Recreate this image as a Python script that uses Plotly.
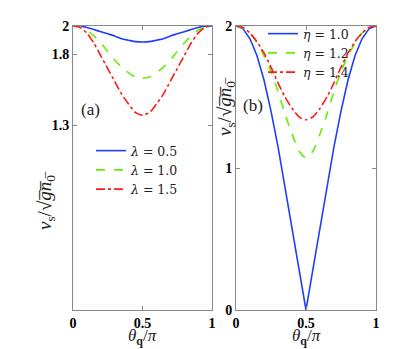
import plotly.graph_objects as go

# theta_q / pi sample positions
theta = [0.0, 0.05, 0.10, 0.15, 0.20, 0.25, 0.30, 0.35, 0.40, 0.45, 0.50,
         0.55, 0.60, 0.65, 0.70, 0.75, 0.80, 0.85, 0.90, 0.95, 1.0]

# panel (a): lambda series
lam_labels = ["0.5", "1.0", "1.5"]
lam_05 = [2.0, 1.998, 1.99, 1.975, 1.96, 1.945, 1.93, 1.91, 1.90, 1.89, 1.887,
          1.89, 1.90, 1.91, 1.93, 1.945, 1.96, 1.975, 1.99, 1.998, 2.0]
lam_10 = [2.0, 1.995, 1.97, 1.93, 1.88, 1.82, 1.76, 1.71, 1.67, 1.64, 1.632,
          1.64, 1.67, 1.71, 1.76, 1.82, 1.88, 1.93, 1.97, 1.995, 2.0]
lam_15 = [2.0, 1.99, 1.95, 1.88, 1.79, 1.70, 1.61, 1.52, 1.45, 1.39, 1.373,
          1.39, 1.45, 1.52, 1.61, 1.70, 1.79, 1.88, 1.95, 1.99, 2.0]

# panel (b): eta series
eta_labels = ["1.0", "1.2", "1.4"]
eta_10 = [2.0, 1.98, 1.91, 1.79, 1.62, 1.40, 1.15, 0.87, 0.58, 0.29, 0.0,
          0.29, 0.58, 0.87, 1.15, 1.40, 1.62, 1.79, 1.91, 1.98, 2.0]
eta_12 = [2.0, 1.985, 1.95, 1.88, 1.79, 1.68, 1.54, 1.38, 1.24, 1.12, 1.07,
          1.12, 1.24, 1.38, 1.54, 1.68, 1.79, 1.88, 1.95, 1.985, 2.0]
eta_14 = [2.0, 1.99, 1.95, 1.89, 1.81, 1.71, 1.60, 1.50, 1.42, 1.36, 1.34,
          1.36, 1.42, 1.50, 1.60, 1.71, 1.81, 1.89, 1.95, 1.99, 2.0]

colors = ["#1f3fff", "#66ee00", "#ff1a1a"]
dashes = ["solid", "dash", "dashdot"]
serif = "Liberation Serif"

# the page body has an 8px margin, so the figure is laid out in a 407x341 frame
W, H, OFF = 407, 341, 8


def px(x, y):
    # window pixel -> paper fraction
    return (x - OFF) / W, 1 - (y - OFF) / H


fig = go.Figure()

for ys, lab, c, d in zip([lam_05, lam_10, lam_15], lam_labels, colors, dashes):
    fig.add_trace(go.Scatter(
        x=theta, y=ys, mode="lines", name=f"<i>λ</i> = {lab}",
        line=dict(color=c, dash=d, width=1.6, shape="spline", smoothing=0.6),
        xaxis="x", yaxis="y", legend="legend"))

for i, (ys, lab, c, d) in enumerate(zip([eta_10, eta_12, eta_14], eta_labels, colors, dashes)):
    fig.add_trace(go.Scatter(
        x=theta, y=ys, mode="lines", name=f"<i>η</i> = {lab}",
        line=dict(color=c, dash=d, width=1.6,
                  shape="linear" if i == 0 else "spline", smoothing=0.6),
        xaxis="x2", yaxis="y2", legend="legend2"))

axis_common = dict(
    showline=True, linecolor="#888888", linewidth=1, mirror="ticks",
    ticks="inside", ticklen=4, tickcolor="#888888", showgrid=False,
    zeroline=False, automargin=False,
    tickfont=dict(family=serif, size=14, color="black"),
)

# radical with a vinculum made of combining overlines
ytitle = "<i>v</i><sub>s</sub>/√<i>g\u0305n\u0305</i><sub>0\u0305</sub>"
xtitle = "<i>θ</i><sub><b>q</b></sub>/<i>π</i>"

xa0, ya1 = px(73, 26)
xa1, ya0 = px(212, 310)
xb0, _ = px(236, 26)
xb1, _ = px(376, 26)
leg_a = px(98 - 7, 136)
leg_b = px(270 - 7, 19)

fig.update_layout(
    width=W, height=H,
    margin=dict(l=0, r=0, t=0, b=0, autoexpand=False),
    paper_bgcolor="white", plot_bgcolor="white",
    showlegend=True,
    xaxis=dict(domain=[xa0, xa1], range=[0, 1], tickvals=[0, 0.5, 1],
               ticktext=["<b>0</b>", "<b>0.5</b>", "<b>1</b>"], **axis_common),
    yaxis=dict(domain=[ya0, ya1], range=[0, 2], tickvals=[1.3, 1.8, 2],
               ticktext=["<b>1.3</b>", "<b>1.8</b>", "<b>2</b>"], **axis_common),
    xaxis2=dict(domain=[xb0, xb1], range=[0, 1], tickvals=[0, 0.5, 1],
                ticktext=["<b>0</b>", "<b>0.5</b>", "<b>1</b>"], anchor="y2", **axis_common),
    yaxis2=dict(domain=[ya0, ya1], range=[0, 2], tickvals=[0, 1, 2],
                ticktext=["<b>0</b>", "<b>1</b>", "<b>2</b>"], anchor="x2", **axis_common),
    legend=dict(x=leg_a[0], y=leg_a[1], xanchor="left", yanchor="top",
                bgcolor="rgba(0,0,0,0)", font=dict(family="DejaVu Serif", size=12.5, color="#222"),
                itemwidth=30, tracegroupgap=0),
    legend2=dict(x=leg_b[0], y=leg_b[1], xanchor="left", yanchor="top",
                 bgcolor="rgba(0,0,0,0)", font=dict(family="DejaVu Serif", size=12.5, color="#222"),
                 itemwidth=30, tracegroupgap=0),
)

for (tx, ty), ang, txt, size in [
    ((46, 201), -90, ytitle, 19),
    ((226, 107), -90, ytitle, 19),
    ((142, 337), 0, xtitle, 17),
    ((306, 337), 0, xtitle, 17),
    ((90, 110), 0, "(a)", 17),
    ((253, 106), 0, "(b)", 17),
]:
    ax, ay = px(tx, ty)
    fig.add_annotation(text=txt, textangle=ang, xref="paper", yref="paper",
                       x=ax, y=ay, xanchor="center", yanchor="middle",
                       showarrow=False,
                       font=dict(family=serif, size=size, color="#222"))

fig.write_html("out.html")
